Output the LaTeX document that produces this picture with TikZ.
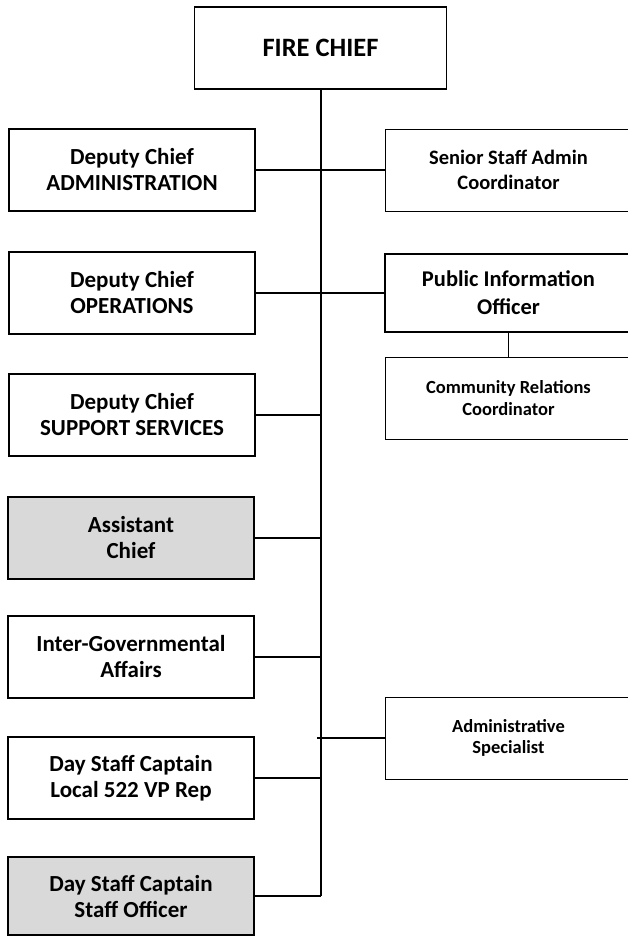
\documentclass[tikz,border=0pt]{standalone}
\usepackage{fontspec}
\setmainfont{Carlito}
\usepackage{tikz}
\usetikzlibrary{positioning, calc}

\tikzset{
	box/.style={draw, line width=1.6pt, minimum width=246pt, minimum height=82pt,
		inner sep=0pt, align=center, font=\fontsize{23}{26}\selectfont\bfseries},
	thinbox/.style={box, line width=0.8pt},
	greybox/.style={box, fill=black!15},
	link/.style={line width=1.6pt},
}

\begin{document}
\begin{tikzpicture}[x=1pt, y=-1pt]
				\useasboundingbox (0,0) rectangle (628,937);
				\node[box, minimum width=252pt, font=\fontsize{26.5}{30}\selectfont\bfseries] (chief) at (320.5,48) {FIRE CHIEF};
				
				\node[box] (admin) at (132,170) {Deputy Chief\\ADMINISTRATION};
				\node[box] (ops) at (132,293) {Deputy Chief\\OPERATIONS};
				\node[box] (support) at (132,415) {Deputy Chief\\SUPPORT SERVICES};
				\node[greybox] (assistant) at (131,538) {Assistant\\Chief};
				\node[box] (intergov) at (131,657) {Inter-Governmental\\Affairs};
				\node[box] (local) at (131,778) {Day Staff Captain\\Local 522 VP Rep};
				\node[greybox, minimum height=78pt] (officer) at (131,896) {Day Staff Captain\\Staff Officer};
				
				\node[thinbox, minimum width=247pt, font=\fontsize{20.5}{25}\selectfont\bfseries] (senior) at (508.5,170) {Senior Staff Admin\\Coordinator};
				\node[box, minimum width=247pt, minimum height=78pt, font=\fontsize{22.5}{28}\selectfont\bfseries] (pio) at (508.5,293) {Public Information\\Officer};
				\node[thinbox, minimum width=247pt, font=\fontsize{18.5}{21.5}\selectfont\bfseries] (community) at (508.5,398) {Community Relations\\Coordinator};
				\node[thinbox, minimum width=247pt, font=\fontsize{18.5}{21}\selectfont\bfseries] (specialist) at (508.5,738) {Administrative\\Specialist};
				
				% trunk and branches
				\draw[link, line width=2pt] (chief.south) -- (chief.south |- officer);
				\draw[link] (admin) -- (admin -| chief.south);
				\draw[link] (ops) -- (ops -| chief.south);
				\draw[link] (support) -- (support -| chief.south);
				\draw[link] (assistant) -- (assistant -| chief.south);
				\draw[link] (intergov) -- (intergov -| chief.south);
				\draw[link] (local) -- (local -| chief.south);
				\draw[link] (officer) -- (officer -| chief.south);
				\draw[link] (senior) -- (senior -| chief.south);
				\draw[link] (pio) -- (pio -| chief.south);
				\draw[link] (specialist.west) -- ($(specialist -| chief.south)+(-4,0)$);
				\draw[line width=0.8pt] (pio.south) -- (community.north);
			\end{tikzpicture}
\end{document}
